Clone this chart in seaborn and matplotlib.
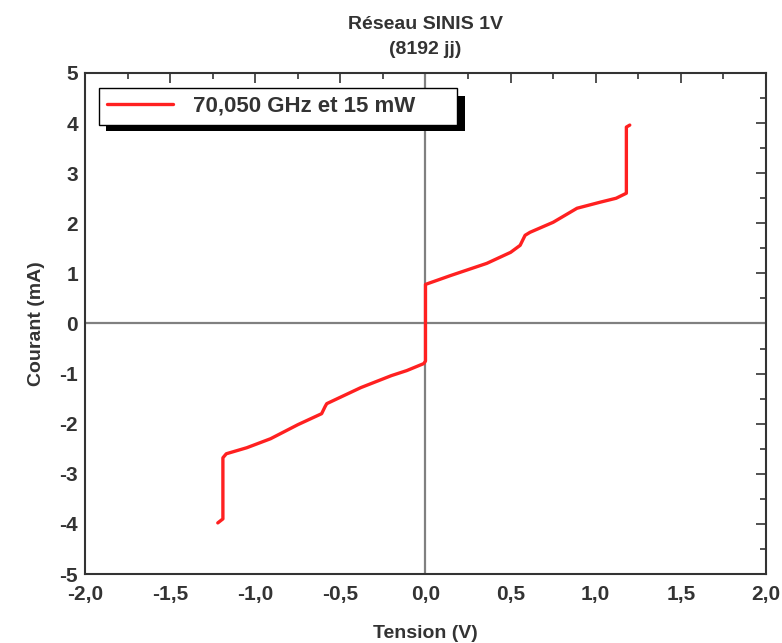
import numpy as np
import pandas as pd
import seaborn as sns
import matplotlib
matplotlib.use("Agg")
import matplotlib.pyplot as plt
from matplotlib.ticker import FuncFormatter, MultipleLocator
from matplotlib.patches import Rectangle

# values (tension V, courant mA), along the sweep
tension = [-1.22, -1.19, -1.19, -1.17, -1.05, -0.91, -0.75, -0.61, -0.59, -0.58,
           -0.38, -0.20, -0.11, -0.01, 0.00, 0.00, 0.00, 0.15, 0.36, 0.50,
           0.556, 0.585, 0.614, 0.75, 0.89, 1.025, 1.12, 1.18, 1.18, 1.20]
courant = [-3.98, -3.90, -2.68, -2.60, -2.48, -2.30, -2.02, -1.80, -1.66, -1.60,
           -1.28, -1.04, -0.94, -0.80, -0.75, 0.00, 0.78, 0.96, 1.20, 1.42,
           1.56, 1.76, 1.82, 2.02, 2.30, 2.42, 2.50, 2.60, 3.92, 3.96]
legend_label = "70,050 GHz et 15 mW"
title = "Réseau SINIS 1V\n(8192 jj)"

df = pd.DataFrame({"Tension (V)": tension, "Courant (mA)": courant,
                   "serie": legend_label})

sns.set_style("white")
plt.rcParams["font.family"] = ["Liberation Sans", "DejaVu Sans"]
plt.rcParams["font.weight"] = "bold"
plt.rcParams["axes.titleweight"] = "bold"
plt.rcParams["axes.labelweight"] = "bold"
plt.rcParams["text.color"] = "#333333"
plt.rcParams["axes.labelcolor"] = "#333333"
plt.rcParams["xtick.color"] = "#333333"
plt.rcParams["ytick.color"] = "#333333"

fig = plt.figure(figsize=(7.82, 6.43), dpi=100)
ax = fig.add_axes([0.1087, 0.1073, 0.8708, 0.7792])

ax.axhline(0, color="#808080", lw=1.6, zorder=1)
ax.axvline(0, color="#808080", lw=1.6, zorder=1)

sns.lineplot(data=df, x="Tension (V)", y="Courant (mA)", hue="serie",
             palette=["#ff2020"], sort=False, estimator=None, lw=2.4,
             ax=ax, zorder=3)

ax.set_xlim(-2, 2)
ax.set_ylim(-5, 5)
ax.xaxis.set_major_locator(MultipleLocator(0.5))
ax.xaxis.set_minor_locator(MultipleLocator(0.25))
ax.yaxis.set_major_locator(MultipleLocator(1))
ax.yaxis.set_minor_locator(MultipleLocator(0.5))
ax.xaxis.set_major_formatter(FuncFormatter(lambda v, p: f"{v:.1f}".replace(".", ",")))
ax.yaxis.set_major_formatter(FuncFormatter(lambda v, p: f"{v:.0f}"))
ax.tick_params(which="both", direction="in", top=True, right=True,
               labeltop=False, labelright=False, width=1.2, color="#333333")
ax.tick_params(which="major", length=7, labelsize=15)
ax.tick_params(axis="x", which="major", pad=8)
ax.tick_params(axis="y", which="major", pad=5)
ax.tick_params(which="minor", length=4)
for s in ax.spines.values():
    s.set_linewidth(1.5)
    s.set_color("#333333")

ax.set_xlabel("Tension (V)", fontsize=14, labelpad=15)
ax.set_ylabel("Courant (mA)", fontsize=14, labelpad=10)
ax.set_title(title, fontsize=14, pad=14, linespacing=1.55)

leg = ax.legend(loc="upper left", bbox_to_anchor=(0.0206, 0.900, 0.525, 0.070),
                mode="expand", borderaxespad=0, fancybox=False, framealpha=1,
                edgecolor="black", fontsize=16, handlelength=3.0,
                handletextpad=0.9, borderpad=0.35)
leg.get_frame().set_linewidth(1.0)
leg.set_zorder(6)
ax.add_patch(Rectangle((0.0308, 0.884), 0.527, 0.070, transform=ax.transAxes,
                       facecolor="black", edgecolor="none", zorder=5.5))

fig.savefig("out.png", dpi=100)
